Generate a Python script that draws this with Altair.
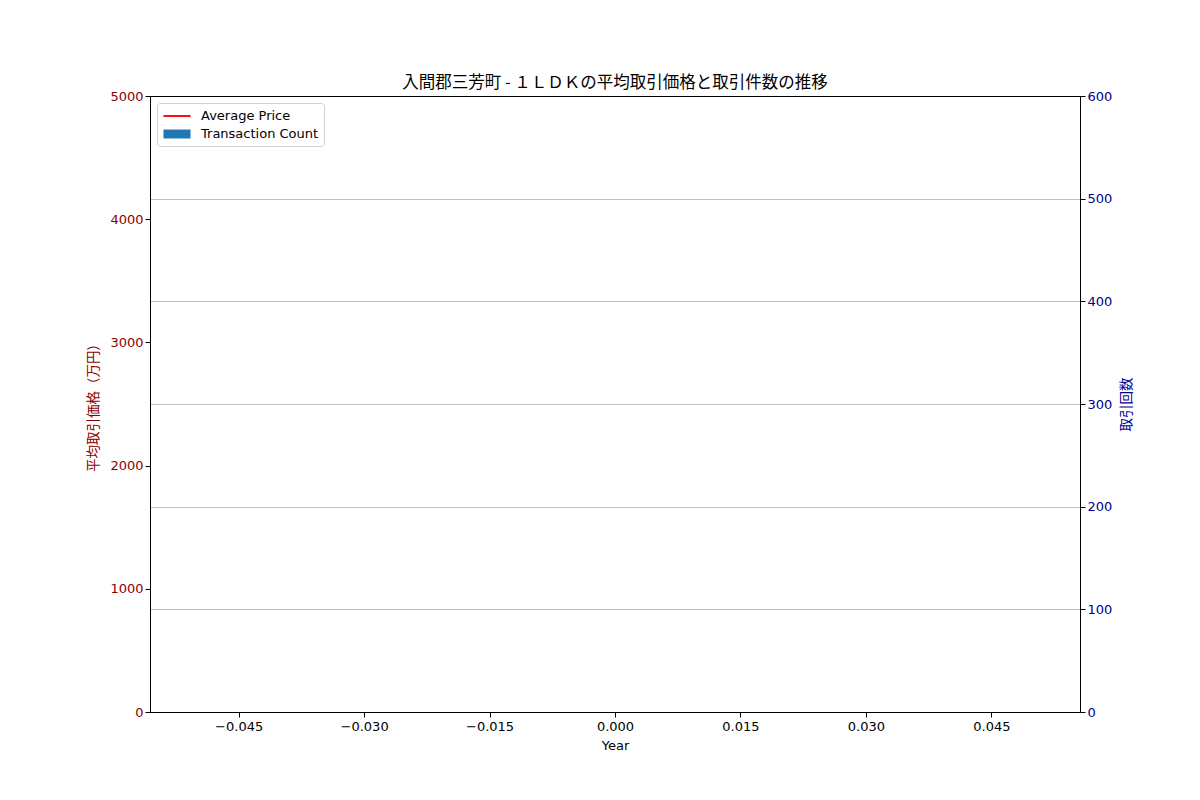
import altair as alt
import pandas as pd

# No transactions recorded: every series is empty
years = []
avg_price = []
tx_count = []
series_names = ["Average Price", "Transaction Count"]
series_colors = ["red", "#1f77b4"]
x_ticks = [-0.045, -0.030, -0.015, 0.0, 0.015, 0.030, 0.045]
price_ticks = [0, 1000, 2000, 3000, 4000, 5000]
count_ticks = [0, 100, 200, 300, 400, 500, 600]

df = pd.DataFrame({
    "Year": pd.Series(years, dtype=float),
    "Price": pd.Series(avg_price, dtype=float),
    "Count": pd.Series(tx_count, dtype=float),
    "Series": pd.Series([], dtype=str),
})

JP = "Noto Sans CJK JP"
LAT = "DejaVu Sans, Noto Sans CJK JP"
LFS = 13

x_enc = alt.X(
    "Year:Q",
    scale=alt.Scale(domain=[-0.055, 0.055], nice=False, zero=False),
    axis=alt.Axis(
        title="Year", values=x_ticks, format=".3f",
        labelExpr="replace(datum.label, '-', '\u2212')",
        grid=False, tickColor="black", domainColor="black",
        labelColor="black", titleColor="black", tickSize=5,
        labelFontSize=LFS, titleFontSize=LFS, labelPadding=3, titlePadding=6,
        titleFontWeight="normal", labelFont=LAT, titleFont=LAT,
    ),
)

y_left = alt.Y(
    "Price:Q",
    scale=alt.Scale(domain=[0, 5000], nice=False),
    axis=alt.Axis(
        title="平均取引価格（万円）", orient="left", values=price_ticks, format="d",
        grid=False, labelColor="darkred", titleColor="darkred",
        tickColor="black", domainColor="black", tickSize=5,
        labelFontSize=LFS, titleFontSize=13.5, titlePadding=9,
        titleFontWeight="normal", labelFont=LAT, titleFont=JP,
    ),
)

bars = alt.Chart(df).mark_bar(color="#1f77b4").encode(
    x=x_enc,
    y=alt.Y(
        "Count:Q",
        scale=alt.Scale(domain=[0, 600], nice=False),
        axis=alt.Axis(
            title="取引回数", orient="right", values=count_ticks, format="d",
            grid=True,
            gridColor=alt.condition("datum.value == 600 || datum.value == 0",
                                    alt.value("black"), alt.value("#b0b0b0")),
            gridWidth=alt.condition("datum.value == 600 || datum.value == 0",
                                    alt.value(1), alt.value(0.8)),
            labelColor="darkblue", titleColor="darkblue",
            tickColor="black", domainColor="black", tickSize=5,
            labelFontSize=LFS, titleFontSize=13.5, titleAngle=270,
            titleBaseline="top", titlePadding=8,
            titleFontWeight="normal", labelFont=LAT, titleFont=JP,
        ),
    ),
)

line = alt.Chart(df).mark_line(color="red").encode(x=x_enc, y=y_left)

leg = dict(
    title=None, orient="top-left", offset=7,
    labelFont=LAT, labelFontSize=LFS, labelColor="black",
    strokeColor="#d0d0d0", fillColor="white", cornerRadius=3,
    padding=5, rowPadding=3, symbolSize=256, symbolOpacity=1,
    symbolStrokeWidth=0, symbolOffset=7, labelOffset=16,
)

legend_keys = alt.Chart(df).mark_point(filled=True, opacity=1).encode(
    x=x_enc,
    y=y_left,
    color=alt.Color(
        "Series:N",
        scale=alt.Scale(domain=series_names, range=series_colors),
        legend=alt.Legend(**leg),
    ),
    shape=alt.Shape(
        "Series:N",
        scale=alt.Scale(
            domain=series_names,
            range=["M-1.69,-0.12H1.69V0.12H-1.69Z", "M-1.69,-0.56H1.69V0.56H-1.69Z"],
        ),
        legend=alt.Legend(**leg),
    ),
)

left = alt.layer(line, legend_keys)

chart = alt.layer(bars, left).resolve_scale(y="independent").properties(
    width=930, height=616,
    title=alt.TitleParams(
        "入間郡三芳町 - １ＬＤＫの平均取引価格と取引件数の推移",
        font=JP, fontSize=16.5, fontWeight="normal", color="black",
        anchor="middle", baseline="bottom", offset=-17,
    ),
    autosize=alt.AutoSizeParams(type="none"),
    padding={"left": 142, "top": 88, "right": 112, "bottom": 80},
).configure_view(stroke="black", strokeWidth=1).configure(background="white")

chart.save("out.html", embed_options={"renderer": "svg", "actions": False})
